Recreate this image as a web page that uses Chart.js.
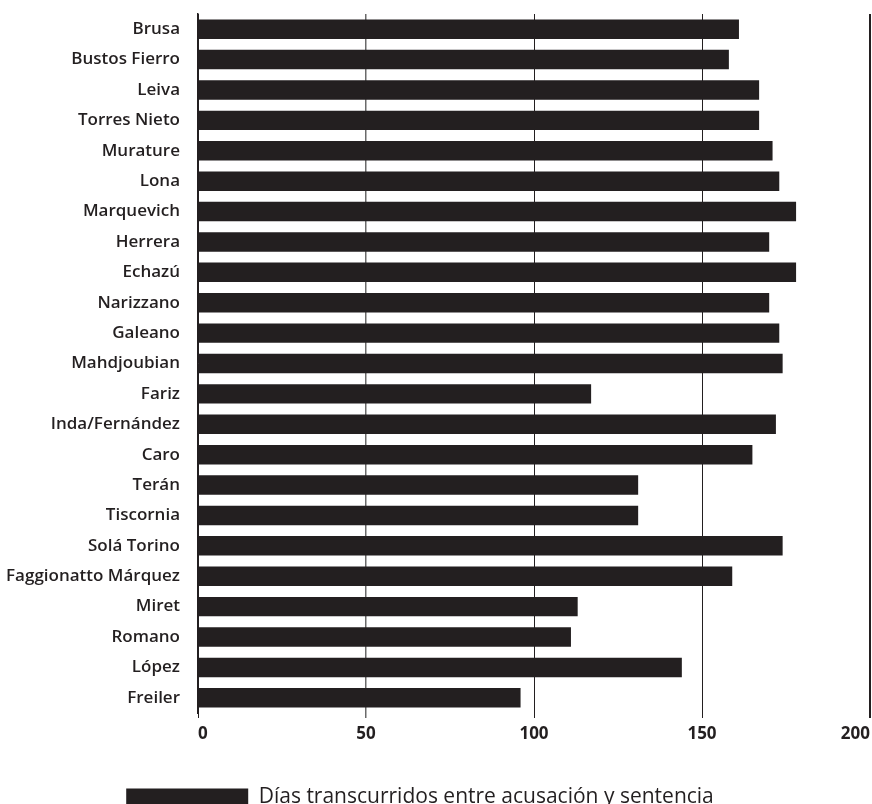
<!DOCTYPE html>
<html>
<head>
<meta charset="utf-8">
<script src="https://cdn.jsdelivr.net/npm/chart.js@4"></script>
<style>
  html, body { margin: 0; padding: 0; background: #fff; overflow: hidden; }
  #wrap { width: 872px; height: 804px; overflow: hidden; }
</style>
</head>
<body>
<div id="wrap"><canvas id="daysChart" width="872" height="818"></canvas></div>
<script>
// judges / courts, top to bottom as in the original graphic
const judges = [
    "Brusa", "Bustos Fierro", "Leiva", "Torres Nieto", "Murature", "Lona",
    "Marquevich", "Herrera", "Echazú", "Narizzano", "Galeano", "Mahdjoubian",
    "Fariz", "Inda/Fernández", "Caro", "Terán", "Tiscornia", "Solá Torino",
    "Faggionatto Márquez", "Miret", "Romano", "López", "Freiler"
];

// days between accusation and sentence
const days = [
    161, 158, 167, 167, 171, 173,
    178, 170, 178, 170, 173, 174,
    117, 172, 165, 131, 131, 174,
    159, 113, 111, 144, 96
];

const seriesLabel = "Días transcurridos entre acusación y sentencia";
const xTicks = [0, 50, 100, 150, 200];

const ink = '#231f20';

// the legend in the original sits a bit left of centre
const legendNudge = {
    id: 'legendNudge',
    afterLayout(chart) {
        chart.legend.left -= 15;
        chart.legend.right -= 15;
    }
};

new Chart(document.getElementById('daysChart'), {
    type: 'bar',
    data: {
        labels: judges,
        datasets: [{
            label: seriesLabel,
            data: days,
            backgroundColor: ink,
            borderWidth: 0,
            categoryPercentage: 1.0,
            barPercentage: 0.64
        }]
    },
    plugins: [legendNudge],
    options: {
        indexAxis: 'y',
        responsive: false,
        animation: false,
        layout: { padding: { top: 14, right: 2, left: 0, bottom: 0 } },
        plugins: {
            tooltip: { enabled: false },
            legend: {
                position: 'bottom',
                labels: {
                    boxWidth: 122,
                    boxHeight: 18,
                    padding: 10,
                    color: ink,
                    font: { family: 'Open Sans', size: 21, weight: 'normal' }
                }
            }
        },
        scales: {
            x: {
                min: xTicks[0],
                max: xTicks[xTicks.length - 1],
                afterBuildTicks: (scale) => { scale.ticks = xTicks.map(v => ({ value: v })); },
                afterFit: (scale) => {
                    scale.height = 64;
                    scale.paddingLeft = 0;
                    scale.paddingRight = 0;
                },
                border: { display: false },
                grid: {
                    color: (ctx) => ctx.tick && ctx.tick.value === 50 ? '#6a6a6a' : ink,
                    lineWidth: (ctx) => {
                        if (!ctx.tick) return 1;
                        if (ctx.tick.value === 200) return 2;
                        if (ctx.tick.value === 50) return 1.5;
                        return 1;
                    },
                    drawTicks: true,
                    tickLength: 5
                },
                ticks: {
                    align: 'inner',
                    padding: 6,
                    color: ink,
                    font: { family: 'Open Sans', size: 17, weight: 'bold' }
                }
            },
            y: {
                afterFit: (scale) => {
                    scale.width = 198;
                    scale.paddingTop = 0;
                    scale.paddingBottom = 0;
                },
                grid: { display: false, drawTicks: false },
                border: { display: true, color: ink, width: 1.5 },
                ticks: {
                    padding: 18,
                    color: ink,
                    font: { family: 'Open Sans', size: 17, weight: '600' }
                }
            }
        }
    }
});
</script>
</body>
</html>
